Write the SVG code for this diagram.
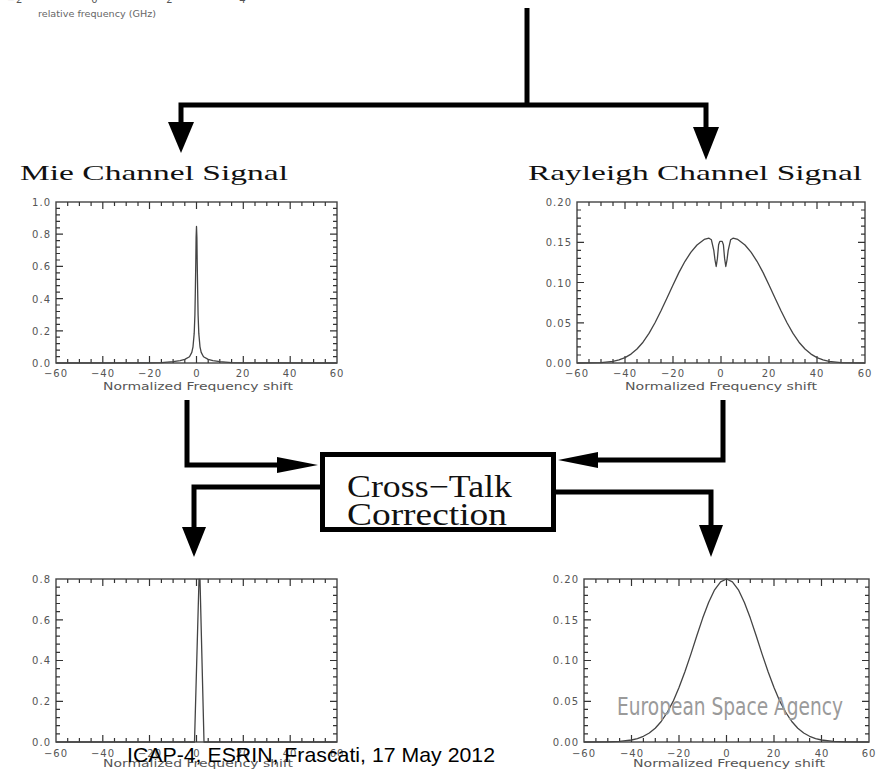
<svg xmlns="http://www.w3.org/2000/svg" width="892" height="770" viewBox="0 0 892 770">
<style>
.conn{fill:none;stroke:#000;stroke-width:5;stroke-linejoin:miter}
.head{fill:#000}
.frame{fill:none;stroke:#444;stroke-width:1.4}
.tick{fill:none;stroke:#333;stroke-width:1.2}
.curve{fill:none;stroke:#444;stroke-width:1.3;stroke-linejoin:round}
.tl{font-family:"DejaVu Sans",sans-serif;font-size:10px;fill:#555;letter-spacing:1px}
.tx{text-anchor:middle}
.ty{text-anchor:end}
.ax{font-family:"DejaVu Sans",sans-serif;font-size:10px;fill:#555;text-anchor:middle}
.ttl{font-family:"Liberation Serif",serif;font-size:22px;fill:#111}
.box{fill:#fff;stroke:#000;stroke-width:5}
.boxt{font-family:"Liberation Serif",serif;font-size:31px;fill:#111}
</style>
<rect width="892" height="770" fill="#fff"/>

<g id="source-fragment">
<text class="tl tx" x="15" y="3">−2</text>
<text class="tl tx" x="95" y="3">0</text>
<text class="tl tx" x="170" y="3">2</text>
<text class="tl tx" x="243" y="3">4</text>
<text x="38" y="17" font-family="DejaVu Sans,sans-serif" font-size="8" fill="#666" textLength="118" lengthAdjust="spacingAndGlyphs">relative frequency (GHz)</text>
</g>

<g id="connectors">
<path class="conn" d="M527,8 V105"/>
<path class="conn" d="M181,124 V105 H706 V129"/>
<polygon class="head" points="168,122 194,122 181,153"/>
<polygon class="head" points="693,127 719,127 706,160"/>
<path class="conn" d="M187,400 V465 H282"/>
<polygon class="head" points="277,457 318,465 277,473"/>
<path class="conn" d="M723,400 V460 H594"/>
<polygon class="head" points="598,452 558,460 598,468"/>
<path class="conn" d="M322,487 H194 V530"/>
<polygon class="head" points="182,527 206,527 194,557"/>
<path class="conn" d="M554,492 H711 V528"/>
<polygon class="head" points="699,525 723,525 711,557"/>
</g>

<g id="mie-signal">
<text class="ttl" x="20" y="180" textLength="268" lengthAdjust="spacingAndGlyphs">Mie Channel Signal</text>
<rect class="frame" x="56" y="202" width="281" height="161"/>
<path class="tick" d="M67.7,363v-4M79.4,363v-4M91.1,363v-4M114.5,363v-4M126.2,363v-4M138,363v-4M161.4,363v-4M173.1,363v-4M184.8,363v-4M208.2,363v-4M219.8,363v-4M231.6,363v-4M255,363v-4M266.8,363v-4M278.5,363v-4M301.9,363v-4M313.6,363v-4M325.3,363v-4M102.8,363v-7M149.5,363v-7M196.5,363v-7M243.3,363v-7M290.2,363v-7
M67.7,202v4M79.4,202v4M91.1,202v4M114.5,202v4M126.2,202v4M138,202v4M161.4,202v4M173.1,202v4M184.8,202v4M208.2,202v4M219.8,202v4M231.6,202v4M255,202v4M266.8,202v4M278.5,202v4M301.9,202v4M313.6,202v4M325.3,202v4M102.8,202v7M149.5,202v7M196.5,202v7M243.3,202v7M290.2,202v7
M56,208.4h4M56,214.9h4M56,221.3h4M56,227.8h4M56,240.6h4M56,247.1h4M56,253.5h4M56,260h4M56,272.8h4M56,279.3h4M56,285.7h4M56,292.2h4M56,305h4M56,311.5h4M56,317.9h4M56,324.4h4M56,337.2h4M56,343.7h4M56,350.1h4M56,356.6h4M56,234.2h7M56,266.4h7M56,298.6h7M56,330.8h7
M337,208.4h-4M337,214.9h-4M337,221.3h-4M337,227.8h-4M337,240.6h-4M337,247.1h-4M337,253.5h-4M337,260h-4M337,272.8h-4M337,279.3h-4M337,285.7h-4M337,292.2h-4M337,305h-4M337,311.5h-4M337,317.9h-4M337,324.4h-4M337,337.2h-4M337,343.7h-4M337,350.1h-4M337,356.6h-4M337,234.2h-7M337,266.4h-7M337,298.6h-7M337,330.8h-7"/>
<path class="curve" d="M56,363 L149.7,362.9 L161.4,362.6 L173.1,361.6 L180.1,360.6 L184.8,359.4 L189.5,356.8 L191.8,352.4 L193,346.8 L194.2,333.4 L194.9,315 L195.3,293.3 L195.8,261.9 L196.1,237.6 L196.5,226.5 L196.9,237.6 L197.2,261.9 L197.7,293.3 L198.1,315 L198.8,333.4 L200,346.8 L201.2,352.4 L203.5,356.8 L208.2,359.4 L212.9,360.6 L219.9,361.6 L231.6,362.6 L243.3,362.9 L337,363"/>
<text class="tl ty" x="51" y="206">1.0</text>
<text class="tl ty" x="51" y="238">0.8</text>
<text class="tl ty" x="51" y="270">0.6</text>
<text class="tl ty" x="51" y="303">0.4</text>
<text class="tl ty" x="51" y="335">0.2</text>
<text class="tl ty" x="51" y="367">0.0</text>
<text class="tl tx" x="56" y="377">−60</text>
<text class="tl tx" x="103" y="377">−40</text>
<text class="tl tx" x="150" y="377">−20</text>
<text class="tl tx" x="197" y="377">0</text>
<text class="tl tx" x="243" y="377">20</text>
<text class="tl tx" x="290" y="377">40</text>
<text class="tl tx" x="337" y="377">60</text>
<text class="ax" x="198" y="390" textLength="190" lengthAdjust="spacingAndGlyphs">Normalized Frequency shift</text>
</g>

<g id="rayleigh-signal">
<text class="ttl" x="528" y="180" textLength="334" lengthAdjust="spacingAndGlyphs">Rayleigh Channel Signal</text>
<rect class="frame" x="577" y="202" width="288" height="161"/>
<path class="tick" d="M589,363v-4M601,363v-4M613,363v-4M637,363v-4M649,363v-4M661,363v-4M685,363v-4M697,363v-4M709,363v-4M733,363v-4M745,363v-4M757,363v-4M781,363v-4M793,363v-4M805,363v-4M829,363v-4M841,363v-4M853,363v-4M625,363v-7M673,363v-7M721,363v-7M769,363v-7M817,363v-7
M589,202v4M601,202v4M613,202v4M637,202v4M649,202v4M661,202v4M685,202v4M697,202v4M709,202v4M733,202v4M745,202v4M757,202v4M781,202v4M793,202v4M805,202v4M829,202v4M841,202v4M853,202v4M625,202v7M673,202v7M721,202v7M769,202v7M817,202v7
M577,210h4M577,218.1h4M577,226.2h4M577,234.2h4M577,250.3h4M577,258.4h4M577,266.4h4M577,274.5h4M577,290.6h4M577,298.6h4M577,306.7h4M577,314.7h4M577,330.8h4M577,338.9h4M577,346.9h4M577,355h4M577,242.3h7M577,282.5h7M577,322.8h7
M865,210h-4M865,218.1h-4M865,226.2h-4M865,234.2h-4M865,250.3h-4M865,258.4h-4M865,266.4h-4M865,274.5h-4M865,290.6h-4M865,298.6h-4M865,306.7h-4M865,314.7h-4M865,330.8h-4M865,338.9h-4M865,346.9h-4M865,355h-4M865,242.3h-7M865,282.5h-7M865,322.8h-7"/>
<path class="curve" d="M577,363 L601,362.6 L613,361.4 L619,359.9 L625,357.6 L631,354.1 L637,349 L643,342.2 L649,333.4 L655,322.8 L661,310.8 L667,297.9 L673,285 L679,272.4 L685,261.3 L691,252.1 L697,245 L704.2,239.4 L709,238.2 L711.4,239.8 L713.8,250.3 L715,260 L716.2,266.5 L717.4,258.4 L718.6,244.7 L719.8,241.4 L721,241.4 L722.2,241.4 L723.4,244.7 L724.6,258.4 L725.8,266.5 L727,260 L728.2,250.3 L730.6,239.8 L733,238.2 L737.8,239.4 L745,245 L751,252.1 L757,261.3 L763,272.4 L769,285 L775,297.9 L781,310.8 L787,322.8 L793,333.4 L799,342.2 L805,349 L811,354.1 L817,357.6 L823,359.9 L829,361.4 L841,362.6 L865,363"/>
<text class="tl ty" x="572" y="206">0.20</text>
<text class="tl ty" x="572" y="246">0.15</text>
<text class="tl ty" x="572" y="287">0.10</text>
<text class="tl ty" x="572" y="327">0.05</text>
<text class="tl ty" x="572" y="367">0.00</text>
<text class="tl tx" x="577" y="377">−60</text>
<text class="tl tx" x="625" y="377">−40</text>
<text class="tl tx" x="673" y="377">−20</text>
<text class="tl tx" x="721" y="377">0</text>
<text class="tl tx" x="769" y="377">20</text>
<text class="tl tx" x="817" y="377">40</text>
<text class="tl tx" x="865" y="377">60</text>
<text class="ax" x="721" y="390" textLength="192" lengthAdjust="spacingAndGlyphs">Normalized Frequency shift</text>
</g>

<g id="crosstalk-correction">
<rect class="box" x="322.5" y="454.5" width="231" height="75"/>
<text class="boxt" x="347" y="497" textLength="165" lengthAdjust="spacingAndGlyphs">Cross−Talk</text>
<text class="boxt" x="347" y="525" textLength="160" lengthAdjust="spacingAndGlyphs">Correction</text>
</g>

<g id="mie-corrected">
<rect class="frame" x="56" y="579" width="281" height="163"/>
<path class="tick" d="M67.7,742v-4M79.4,742v-4M91.1,742v-4M114.5,742v-4M126.2,742v-4M138,742v-4M161.4,742v-4M173.1,742v-4M184.8,742v-4M208.2,742v-4M219.8,742v-4M231.6,742v-4M255,742v-4M266.8,742v-4M278.5,742v-4M301.9,742v-4M313.6,742v-4M325.3,742v-4M102.8,742v-7M149.5,742v-7M196.5,742v-7M243.3,742v-7M290.2,742v-7
M67.7,579v4M79.4,579v4M91.1,579v4M114.5,579v4M126.2,579v4M138,579v4M161.4,579v4M173.1,579v4M184.8,579v4M208.2,579v4M219.8,579v4M231.6,579v4M255,579v4M266.8,579v4M278.5,579v4M301.9,579v4M313.6,579v4M325.3,579v4M102.8,579v7M149.5,579v7M196.5,579v7M243.3,579v7M290.2,579v7
M56,587.2h4M56,595.3h4M56,603.5h4M56,611.6h4M56,627.9h4M56,636.1h4M56,644.2h4M56,652.4h4M56,668.7h4M56,676.8h4M56,685h4M56,693.1h4M56,709.4h4M56,717.6h4M56,725.7h4M56,733.9h4M56,619.8h7M56,660.5h7M56,701.3h7
M337,587.2h-4M337,595.3h-4M337,603.5h-4M337,611.6h-4M337,627.9h-4M337,636.1h-4M337,644.2h-4M337,652.4h-4M337,668.7h-4M337,676.8h-4M337,685h-4M337,693.1h-4M337,709.4h-4M337,717.6h-4M337,725.7h-4M337,733.9h-4M337,619.8h-7M337,660.5h-7M337,701.3h-7"/>
<path class="curve" d="M56,742 L194.5,742 L199,579.5 L200,579.5 L204,742 L337,742"/>
<text class="tl ty" x="51" y="583">0.8</text>
<text class="tl ty" x="51" y="624">0.6</text>
<text class="tl ty" x="51" y="664">0.4</text>
<text class="tl ty" x="51" y="705">0.2</text>
<text class="tl ty" x="51" y="746">0.0</text>
<text class="tl tx" x="56" y="757">−60</text>
<text class="tl tx" x="103" y="757">−40</text>
<text class="tl tx" x="150" y="757">−20</text>
<text class="tl tx" x="197" y="757">0</text>
<text class="tl tx" x="243" y="757">20</text>
<text class="tl tx" x="290" y="757">40</text>
<text class="tl tx" x="337" y="757">60</text>
<text class="ax" x="198" y="767" textLength="190" lengthAdjust="spacingAndGlyphs">Normalized Frequency shift</text>
</g>

<g id="rayleigh-corrected">
<rect class="frame" x="584" y="579" width="285" height="163"/>
<path class="tick" d="M595.9,742v-4M607.8,742v-4M619.6,742v-4M643.4,742v-4M655.3,742v-4M667.1,742v-4M690.9,742v-4M702.8,742v-4M714.6,742v-4M738.4,742v-4M750.3,742v-4M762.1,742v-4M786,742v-4M797.8,742v-4M809.6,742v-4M833.4,742v-4M845.3,742v-4M857.1,742v-4M631.5,742v-7M679,742v-7M726.5,742v-7M774,742v-7M821.5,742v-7
M595.9,579v4M607.8,579v4M619.6,579v4M643.4,579v4M655.3,579v4M667.1,579v4M690.9,579v4M702.8,579v4M714.6,579v4M738.4,579v4M750.3,579v4M762.1,579v4M786,579v4M797.8,579v4M809.6,579v4M833.4,579v4M845.3,579v4M857.1,579v4M631.5,579v7M679,579v7M726.5,579v7M774,579v7M821.5,579v7
M584,587.2h4M584,595.3h4M584,603.5h4M584,611.6h4M584,627.9h4M584,636.1h4M584,644.2h4M584,652.4h4M584,668.7h4M584,676.8h4M584,685h4M584,693.1h4M584,709.4h4M584,717.6h4M584,725.7h4M584,733.9h4M584,619.8h7M584,660.5h7M584,701.3h7
M869,587.2h-4M869,595.3h-4M869,603.5h-4M869,611.6h-4M869,627.9h-4M869,636.1h-4M869,644.2h-4M869,652.4h-4M869,668.7h-4M869,676.8h-4M869,685h-4M869,693.1h-4M869,709.4h-4M869,717.6h-4M869,725.7h-4M869,733.9h-4M869,619.8h-7M869,660.5h-7M869,701.3h-7"/>
<path class="curve" d="M584,742 L607.7,741.9 L619.6,741.4 L631.5,740 L637.4,738.6 L643.4,736.3 L649.3,733 L655.2,728.2 L661.2,721.5 L667.1,712.7 L673.1,701.4 L679,687.6 L684.9,671.7 L690.9,654.1 L696.8,635.8 L702.7,618.1 L708.7,602.3 L714.6,589.8 L720.6,581.8 L726.5,579 L732.4,581.8 L738.4,589.8 L744.3,602.3 L750.3,618.1 L756.2,635.8 L762.1,654.1 L768.1,671.7 L774,687.6 L779.9,701.4 L785.9,712.7 L791.8,721.5 L797.8,728.2 L803.7,733 L809.6,736.3 L815.6,738.6 L821.5,740 L833.4,741.4 L845.3,741.9 L869,742"/>
<text class="tl ty" x="579" y="583">0.20</text>
<text class="tl ty" x="579" y="624">0.15</text>
<text class="tl ty" x="579" y="664">0.10</text>
<text class="tl ty" x="579" y="705">0.05</text>
<text class="tl ty" x="579" y="746">0.00</text>
<text class="tl tx" x="584" y="757">−60</text>
<text class="tl tx" x="632" y="757">−40</text>
<text class="tl tx" x="679" y="757">−20</text>
<text class="tl tx" x="727" y="757">0</text>
<text class="tl tx" x="774" y="757">20</text>
<text class="tl tx" x="822" y="757">40</text>
<text class="tl tx" x="869" y="757">60</text>
<text class="ax" x="729" y="767" textLength="192" lengthAdjust="spacingAndGlyphs">Normalized Frequency shift</text>
</g>

<g id="watermark">
<text x="617" y="715" font-family="DejaVu Sans,sans-serif" font-size="25" fill="#9a9a9a" textLength="226" lengthAdjust="spacingAndGlyphs">European Space Agency</text>
</g>

<g id="footer">
<text x="127" y="762" font-family="Liberation Sans,Arial,sans-serif" font-size="21" fill="#000" textLength="368" lengthAdjust="spacingAndGlyphs">ICAP-4, ESRIN, Frascati, 17 May 2012</text>
</g>
</svg>
